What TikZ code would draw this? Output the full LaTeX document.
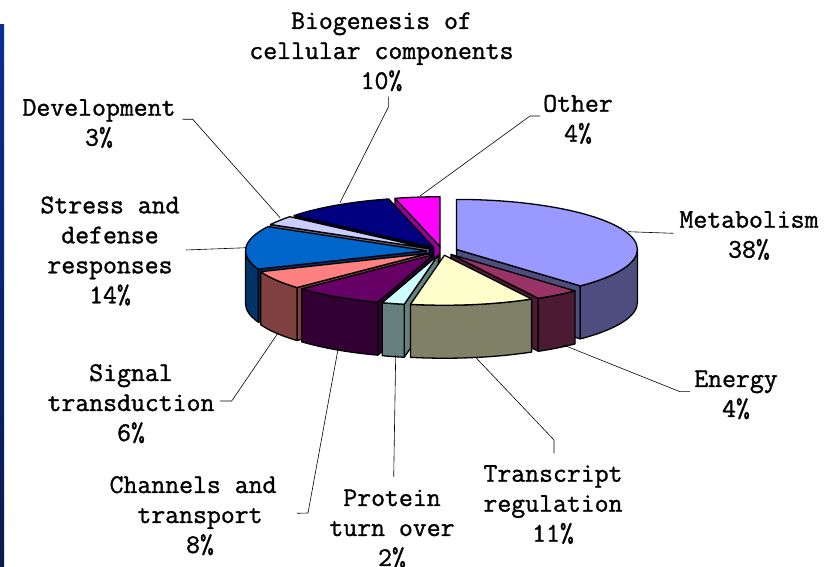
\documentclass[tikz,border=0pt]{standalone}
\usepackage{fontspec}
\usetikzlibrary{calc}
\newfontfamily\lblfont[FakeBold=1.2]{Latin Modern Mono}
\definecolor{metT}{HTML}{9999FF}\definecolor{metS}{HTML}{4D4D80}
\definecolor{eneT}{HTML}{993366}\definecolor{eneS}{HTML}{4D1A33}
\definecolor{traT}{HTML}{FFFFCC}\definecolor{traS}{HTML}{808066}
\definecolor{proT}{HTML}{CCFFFF}\definecolor{proS}{HTML}{668080}
\definecolor{chaT}{HTML}{660066}\definecolor{chaS}{HTML}{330033}
\definecolor{sigT}{HTML}{FF8080}\definecolor{sigS}{HTML}{804040}
\definecolor{strT}{HTML}{0066CC}\definecolor{strS}{HTML}{003366}
\definecolor{devT}{HTML}{CCCCFF}\definecolor{devS}{HTML}{666680}
\definecolor{bioT}{HTML}{000080}\definecolor{bioS}{HTML}{000040}
\definecolor{othT}{HTML}{FF00FF}\definecolor{othS}{HTML}{990099}
\definecolor{barTop}{HTML}{0B2E94}\definecolor{barBot}{HTML}{0A1A4C}
\def\cx{442}\def\cy{316}\def\ra{181}\def\rb{50}\def\ex{15.5}\def\dep{53}
\newcommand\pieslice[5]{%
 \pgfmathsetmacro\sm{(#1+#2)/2}%
 \pgfmathsetmacro\spx{\cx+\ex*cos(\sm)}%
 \pgfmathsetmacro\spy{\cy+\ex*\rb/\ra*sin(\sm)}%
 \coordinate (#5-apex) at (\spx,\spy);
 \coordinate (#5-a) at ($(#5-apex)+(#1:\ra pt and \rb pt)$);
 \coordinate (#5-b) at ($(#5-apex)+(#2:\ra pt and \rb pt)$);
 \pgfmathtruncatemacro\va{cos(#1)<-0.01}%
 \ifnum\va=1
  \filldraw[pieline,fill=#4] (#5-apex) -- (#5-a) -- ++(0,-\dep) -- ($(#5-apex)+(0,-\dep)$) -- cycle;
 \fi
 \pgfmathtruncatemacro\vb{cos(#2)>0.01}%
 \ifnum\vb=1
  \filldraw[pieline,fill=#4] (#5-apex) -- (#5-b) -- ++(0,-\dep) -- ($(#5-apex)+(0,-\dep)$) -- cycle;
 \fi
 \pgfmathsetmacro\hi{min(#1,0)}%
 \pgfmathsetmacro\lo{max(#2,-180)}%
 \pgfmathtruncatemacro\vo{\hi>\lo+0.01}%
 \ifnum\vo=1
  \filldraw[pieline,fill=#4] ($(#5-apex)+(\hi:\ra pt and \rb pt)$) arc[start angle=\hi, end angle=\lo, x radius=\ra pt, y radius=\rb pt] -- ++(0,-\dep) arc[start angle=\lo, end angle=\hi, x radius=\ra pt, y radius=\rb pt] -- cycle;
 \fi
 \filldraw[pieline,fill=#3] (#5-apex) -- (#5-a) arc[start angle=#1, end angle=#2, x radius=\ra pt, y radius=\rb pt] -- cycle;
}
\begin{document}
\begin{tikzpicture}[x=1pt,y=1pt,
  pieline/.style={draw=black, line width=1.3pt, line join=round},
  leader/.style={draw=black, line width=0.6pt},
  lbl/.style={inner sep=0pt, anchor=base, font=\lblfont\fontsize{27}{30}\selectfont}]
\useasboundingbox (0,0) rectangle (827,567);
\fill[white] (0,0) rectangle (827,567);
\shade[top color=barTop, bottom color=barBot] (0,0) rectangle (4,542);
% slices, back to front
\pieslice{-255.6}{-270}{othT}{othS}{oth}
\pieslice{90}{-46.8}{metT}{metS}{met}
\pieslice{-219.6}{-255.6}{bioT}{bioS}{bio}
\pieslice{-46.8}{-61.2}{eneT}{eneS}{ene}
\pieslice{-208.8}{-219.6}{devT}{devS}{dev}
\pieslice{-158.4}{-208.8}{strT}{strS}{str}
\pieslice{-136.8}{-158.4}{sigT}{sigS}{sig}
\pieslice{-108}{-136.8}{chaT}{chaS}{cha}
\pieslice{-100.8}{-108}{proT}{proS}{pro}
\pieslice{-61.2}{-100.8}{traT}{traS}{tra}
% labels
\node[lbl] (Lbio) at (381.5,538) {\begin{tabular}[t]{@{}c@{}}Biogenesis of\\cellular components\\10\%\end{tabular}};
\node[lbl] (Ldev) at (99,451.3) {\begin{tabular}[t]{@{}c@{}}Development\\3\%\end{tabular}};
\node[lbl] (Loth) at (578,455.3) {\begin{tabular}[t]{@{}c@{}}Other\\4\%\end{tabular}};
\node[lbl] (Lmet) at (749,339.3) {\begin{tabular}[t]{@{}c@{}}Metabolism\\38\%\end{tabular}};
\node[lbl] (Lstr) at (110,353.7) {\begin{tabular}[t]{@{}c@{}}Stress and\\defense\\responses\\14\%\end{tabular}};
\node[lbl] (Lsig) at (131,186) {\begin{tabular}[t]{@{}c@{}}Signal\\transduction\\6\%\end{tabular}};
\node[lbl] (Lene) at (736,180) {\begin{tabular}[t]{@{}c@{}}Energy\\4\%\end{tabular}};
\node[lbl] (Lcha) at (200,74) {\begin{tabular}[t]{@{}c@{}}Channels and\phantom{x}\\transport\\8\%\end{tabular}};
\node[lbl] (Lpro) at (392,61) {\begin{tabular}[t]{@{}c@{}}Protein\\turn over\\2\%\end{tabular}};
\node[lbl] (Ltra) at (553,85.3) {\begin{tabular}[t]{@{}c@{}}Transcript\\regulation\\11\%\end{tabular}};
% leader lines
\coordinate (bio1) at (388.3,470.3); \coordinate (bio2) at (388.3,459.7); \coordinate (bio3) at (340,364.3);
\draw[leader] (bio1) -- (bio2) -- (bio3);
\coordinate (dev1) at (182.7,447.7); \coordinate (dev2) at (192.7,447.7); \coordinate (dev3) at (280,349.3);
\draw[leader] (dev1) -- (dev2) -- (dev3);
\coordinate (str1) at (186,317); \coordinate (str2) at (246.7,319.3);
\draw[leader] (str1) -- (str2);
\coordinate (oth1) at (540,451); \coordinate (oth2) at (530,451); \coordinate (oth3) at (420,371);
\draw[leader] (oth1) -- (oth2) -- (oth3);
\coordinate (met1) at (673,333.7); \coordinate (met2) at (628,335.3);
\draw[leader] (met1) -- (met2);
\coordinate (sig1) at (220,166); \coordinate (sig2) at (231.7,166); \coordinate (sig3) at (278,234);
\draw[leader] (sig1) -- (sig2) -- (sig3);
\coordinate (cha1) at (297,53.7); \coordinate (cha2) at (308,54); \coordinate (cha3) at (338,217.7);
\draw[leader] (cha1) -- (cha2) -- (cha3);
\coordinate (pro1) at (393.7,90.3); \coordinate (pro2) at (395.7,212);
\draw[leader] (pro1) -- (pro2);
\coordinate (tra1) at (554,113.7); \coordinate (tra2) at (554,127); \coordinate (tra3) at (475,210.3);
\draw[leader] (tra1) -- (tra2) -- (tra3);
\coordinate (ene1) at (690,175.3); \coordinate (ene2) at (680,175.3); \coordinate (ene3) at (563.3,222);
\draw[leader] (ene1) -- (ene2) -- (ene3);
\end{tikzpicture}
\end{document}
